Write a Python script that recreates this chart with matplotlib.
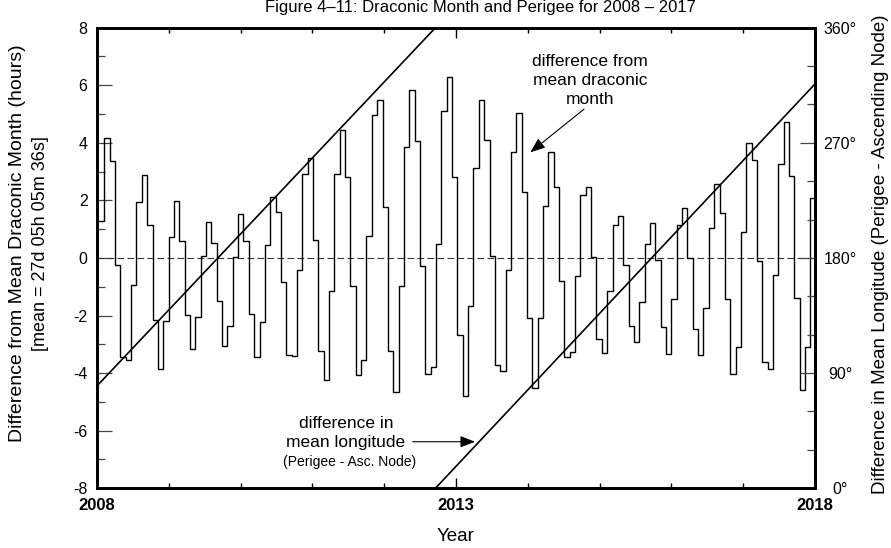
import matplotlib
matplotlib.use('Agg')
import matplotlib.pyplot as plt
import numpy as np
from matplotlib.ticker import MultipleLocator, FixedLocator

plt.rcParams['font.family'] = ['Liberation Sans', 'DejaVu Sans']
plt.rcParams['axes.unicode_minus'] = False

# Difference from mean draconic month (hours), one value per draconic month
month_diff_hours = [
    1.30, 4.15, 3.36, -0.25, -3.44, -3.53, -0.93, 1.94, 2.87, 1.16,
    -2.14, -3.85, -2.20, 0.72, 1.97, 0.60, -1.97, -3.16, -2.04, 0.07,
    1.25, 0.53, -1.51, -3.07, -2.36, 0.03, 1.54, 0.58, -1.94, -3.44,
    -2.22, 0.45, 2.12, 1.60, -0.83, -3.36, -3.42, -0.43, 2.93, 3.48,
    0.61, -3.24, -4.25, -1.14, 2.90, 4.46, 2.80, -0.96, -4.06, -3.53,
    0.75, 4.98, 5.48, 1.77, -3.24, -4.67, -0.98, 3.87, 5.83, 4.08,
    -0.27, -4.02, -3.80, 0.50, 5.10, 6.29, 2.80, -2.67, -4.81, -1.68,
    3.11, 5.48, 4.11, 0.06, -3.71, -3.94, -0.43, 3.67, 5.04, 2.28,
    -2.09, -4.52, -2.09, 1.82, 3.67, 2.46, -0.81, -3.44, -3.28, -0.64,
    2.20, 2.46, 0.05, -2.80, -3.30, -1.14, 1.16, 1.47, -0.25, -2.35,
    -2.93, -1.53, 0.49, 1.21, -0.08, -2.40, -3.33, -1.43, 1.16, 1.74,
    0.00, -2.47, -3.38, -1.74, 1.03, 2.58, 1.56, -1.43, -4.02, -3.09,
    0.90, 4.00, 3.42, -0.12, -3.62, -3.85, -0.58, 3.27, 4.73, 2.84,
    -1.40, -4.58, -3.09, 2.09,
]
FIRST_NODE_YEAR = 2008.0279      # start of first plotted draconic month
DRACONIC_DAYS = 27.2122           # mean draconic month length (days)

# Difference in mean longitude (perigee - ascending node), degrees
lon_seg1_years = [2008.0, 2012.714]
lon_seg1_deg = [80.0, 360.0]
lon_seg2_years = [2012.714, 2018.0]
lon_seg2_deg = [0.0, 316.0]

year_ticks = [2008, 2013, 2018]
year_labels = ['2008', '2013', '2018']
deg_ticks = [0, 90, 180, 270, 360]
deg_labels = ['0°', '90°', '180°', '270°', '360°']

edges = FIRST_NODE_YEAR + np.arange(len(month_diff_hours) + 1) * DRACONIC_DAYS / 365.25
edges[0] = 2008.0

fig = plt.figure(figsize=(8.91, 5.48), dpi=100)
ax = fig.add_axes([0.1089, 0.1091, 0.8058, 0.8404])

ax.stairs(month_diff_hours, edges, baseline=None, color='black', lw=1.0, zorder=3)
ax.axhline(0, color='#333333', lw=0.8, dashes=(6, 3), zorder=2)

ax.set_xlim(2008, 2018)
ax.set_ylim(-8, 8)
ax.xaxis.set_major_locator(FixedLocator(year_ticks))
ax.xaxis.set_minor_locator(MultipleLocator(1))
ax.set_xticklabels(year_labels, fontweight='bold')
ax.yaxis.set_major_locator(MultipleLocator(2))
ax.yaxis.set_minor_locator(MultipleLocator(1))

ax.tick_params(which='both', direction='in', top=True, right=False)
ax.tick_params(axis='x', which='major', length=7, width=1.0, labelsize=12, pad=7)
ax.tick_params(axis='x', which='minor', length=3.5, width=1.0)
ax.tick_params(axis='y', which='major', length=11, width=0.9, color='#444444',
               labelsize=11.5, pad=6.8)
ax.tick_params(axis='y', which='minor', length=6, width=0.9, color='#444444')
for s in ax.spines.values():
    s.set_linewidth(2.0)

ax2 = ax.twinx()
ax2.set_ylim(0, 360)
ax2.yaxis.set_major_locator(FixedLocator(deg_ticks))
ax2.yaxis.set_minor_locator(MultipleLocator(30))
ax2.set_yticklabels(deg_labels)
ax2.tick_params(axis='y', which='major', direction='in', length=11, width=0.9,
                color='#444444', labelsize=11.5, pad=18)
ax2.tick_params(axis='y', which='minor', direction='in', length=6, width=0.9,
                color='#444444')
for lbl in ax2.get_yticklabels():
    lbl.set_horizontalalignment('center')
for s in ax2.spines.values():
    s.set_linewidth(2.0)

ax2.plot(lon_seg1_years, lon_seg1_deg, color='black', lw=1.2)
ax2.plot(lon_seg2_years, lon_seg2_deg, color='black', lw=1.2)

# Labels
fig.text(480 / 891, 1 - 12 / 548, 'Figure 4–11: Draconic Month and Perigee for 2008 – 2017',
         ha='center', va='baseline', fontsize=12)
ax.text(0.5, -0.1053, 'Year', transform=ax.transAxes, ha='center', va='center',
        fontsize=13.5)
ax.text(-0.1114, 0.532, 'Difference from Mean Draconic Month (hours)',
        transform=ax.transAxes, rotation=90, ha='center', va='center', fontsize=14)
ax.text(-0.0794, 0.532, '[mean = 27d 05h 05m 36s]',
        transform=ax.transAxes, rotation=90, ha='center', va='center', fontsize=13)
ax.text(1.0919, 0.5075, 'Difference in Mean Longitude (Perigee - Ascending Node)',
        transform=ax.transAxes, rotation=90, ha='center', va='center', fontsize=13.5)

# Annotations
ax.text(2014.866, 6.156, 'difference from\nmean draconic\nmonth', ha='center',
        va='center', fontsize=12.5, linespacing=1.35)
ax.annotate('', xy=(2014.035, 3.67), xytext=(2014.783, 5.17),
            arrowprops=dict(arrowstyle='-|>,head_length=0.9,head_width=0.35',
                            mutation_scale=10, color='black', lw=0.8,
                            shrinkA=0, shrinkB=0))
ax.text(2011.468, -6.08, 'difference in\nmean longitude', ha='center', va='center',
        fontsize=12.5, linespacing=1.35)
ax.text(2011.524, -7.08, '(Perigee - Asc. Node)', ha='center', va='center', fontsize=10)
ax.annotate('', xy=(2013.265, -6.385), xytext=(2012.397, -6.385),
            arrowprops=dict(arrowstyle='-|>,head_length=0.9,head_width=0.35',
                            mutation_scale=10, color='black', lw=0.8,
                            shrinkA=0, shrinkB=0))

fig.savefig('out.png', dpi=100)
